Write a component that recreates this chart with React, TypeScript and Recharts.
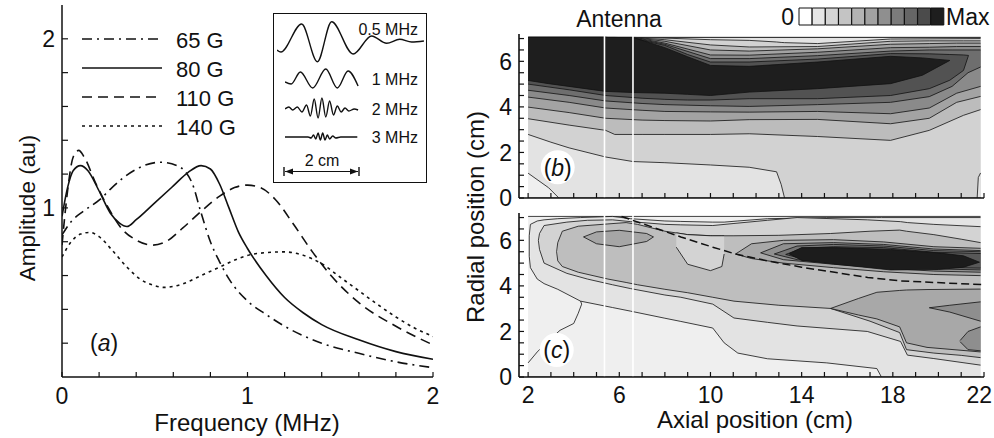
import React from 'react';
import {
  LineChart,
  Line,
  XAxis,
  YAxis,
  ComposedChart,
  Area,
  ReferenceLine,
  BarChart,
  Bar,
  Cell,
} from 'recharts';

const FONT = '"Liberation Sans", Arial, Helvetica, sans-serif';
const INK = '#111';

// ---------------- Panel (a): amplitude vs frequency ----------------
const freqTicks = [0, 0.2, 0.4, 0.6, 0.8, 1, 1.2, 1.4, 1.6, 1.8, 2];
const freqTickLabels = [0, 1, 2];
const ampTicks = [0.2, 0.4, 0.6, 0.8, 1, 1.2, 1.4, 1.6, 1.8, 2];
const ampTickLabels = [1, 2];

const amp65G = [
  [0, 0.84], [0.05, 0.92], [0.115, 0.98], [0.205, 1.05], [0.26, 1.11], [0.386, 1.22],
  [0.53, 1.27], [0.62, 1.25], [0.7, 1.15], [0.75, 0.97], [0.8, 0.8], [0.85, 0.68],
  [0.9, 0.58], [1.0, 0.45], [1.1, 0.37], [1.2, 0.3], [1.4, 0.2], [1.6, 0.14],
  [1.8, 0.09], [2.0, 0.055],
];
const amp80G = [
  [0, 0.95], [0.03, 1.12], [0.06, 1.22], [0.1, 1.25], [0.14, 1.22], [0.2, 1.1],
  [0.26, 0.97], [0.31, 0.91], [0.35, 0.89], [0.4, 0.93], [0.5, 1.03], [0.6, 1.13],
  [0.68, 1.21], [0.75, 1.25], [0.8, 1.23], [0.85, 1.14], [0.9, 1.0], [0.95, 0.86],
  [1.0, 0.76], [1.1, 0.6], [1.2, 0.47], [1.3, 0.38], [1.4, 0.31], [1.6, 0.22],
  [1.8, 0.15], [2.0, 0.105],
];
const amp110G = [
  [0, 0.78], [0.03, 1.1], [0.06, 1.3], [0.09, 1.34], [0.12, 1.3], [0.18, 1.15],
  [0.25, 1.0], [0.32, 0.88], [0.4, 0.81], [0.49, 0.78], [0.56, 0.8], [0.65, 0.88],
  [0.75, 0.98], [0.85, 1.07], [0.93, 1.12], [1.0, 1.135], [1.07, 1.12], [1.15, 1.05],
  [1.25, 0.9], [1.35, 0.74], [1.45, 0.6], [1.6, 0.44], [1.8, 0.3], [2.0, 0.19],
];
const amp140G = [
  [0, 0.71], [0.05, 0.8], [0.1, 0.845], [0.15, 0.855], [0.2, 0.83], [0.27, 0.75],
  [0.35, 0.65], [0.42, 0.58], [0.5, 0.54], [0.55, 0.53], [0.65, 0.55], [0.75, 0.6],
  [0.85, 0.65], [0.95, 0.7], [1.05, 0.73], [1.2, 0.74], [1.3, 0.72], [1.4, 0.67],
  [1.5, 0.59], [1.6, 0.51], [1.7, 0.43], [1.8, 0.355], [1.9, 0.29], [2.0, 0.24],
];
const fieldSeries = [amp65G, amp80G, amp110G, amp140G];
const fieldNames = ['65 G', '80 G', '110 G', '140 G'];
const fieldDashes = ['10 5 2 5', '', '10 6', '3 4'];

// inset waveforms (position along axis in cm, amplitude in arbitrary units)
const wave05MHz = [
  [0, -10], [0.1, -12], [0.64, 16], [1.05, -21.7], [1.42, 18.3], [1.98, -14],
  [2.46, 4], [2.85, -3.3], [3.19, 0.7], [3.5, -2], [3.82, -1],
];
const wave1MHz = [
  [0, -3], [0.16, -5], [0.4, 7], [0.72, -9], [1.06, 10], [1.36, -9], [1.64, 8], [1.9, -7],
];
const wave2MHz = [
  [0, 0], [0.1, 2], [0.2, -1], [0.32, 2], [0.44, -3], [0.56, 4], [0.66, -7], [0.76, 10],
  [0.86, -9], [0.96, 11], [1.06, -8], [1.16, 8], [1.26, -6], [1.36, 3], [1.46, -3],
  [1.56, 1], [1.66, -2], [1.8, 0], [1.9, -1],
];
const wave3MHz = [
  [0, 0], [0.6, 0], [0.68, -1], [0.74, 2], [0.8, -2], [0.86, 4], [0.92, -3], [0.98, 4],
  [1.04, -3], [1.1, 2], [1.16, -2], [1.24, 1], [1.32, -1], [1.45, 0], [1.88, 0],
];
const waveLabels = ['0.5 MHz', '1 MHz', '2 MHz', '3 MHz'];

// ---------------- Panels (b), (c): contour maps ----------------
const axialTicks = [2, 3, 4, 5, 6, 7, 8, 9, 10, 11, 12, 13, 14, 15, 16, 17, 18, 19, 20, 21, 22];
const axialTickLabels = [2, 6, 10, 14, 18, 22];
const radialTicks = [0, 0.5, 1, 1.5, 2, 2.5, 3, 3.5, 4, 4.5, 5, 5.5, 6, 6.5, 7];
const radialTickLabels = [0, 2, 4, 6];
const antennaEdges = [5.35, 6.6];
const colorbarLevels = [0, 1, 2, 3, 4, 5, 6, 7, 8, 9, 10];
const levelColors = ['#ffffff', '#e6e6e6', '#d5d5d5', '#c4c4c4', '#b3b3b3', '#a2a2a2', '#8f8f8f', '#7b7b7b', '#666666', '#4b4b4b', '#1e1e1e'];

// panel (b): [axial, lower radius, upper radius] of each filled level
const bLevel1 = [[2.0, 0, 7.05], [21.85, 0, 7.05]];
const bLevel2 = [[2.0, 1.09, 7.05], [2.9, 0.45, 7.05], [3.35, 0, 7.05], [21.85, 0, 7.05]];
const bLevel3 = [
  [2.0, 2.79, 7.05], [3.0, 2.45, 7.05], [3.8, 2.2, 7.05], [5.4, 1.8, 7.05], [6.6, 1.6, 7.05],
  [8.0, 1.55, 7.02], [10.0, 1.45, 6.95], [11.7, 1.35, 6.92], [12.9, 1.15, 6.85],
  [13.1, 0.6, 6.83], [13.25, 0, 6.82], [14.7, 0, 6.78], [17.9, 0, 6.98], [21.85, 0, 7.0],
];
const bCorner = [[21.7, 0, 0], [21.75, 0, 0.9], [21.85, 0, 1.1]];
const bLevel4 = [
  [2.0, 3.48, 7.05], [3.8, 3.2, 7.05], [5.4, 2.97, 7.05], [5.8, 2.79, 7.05], [7.0, 2.79, 7.02],
  [8.0, 2.79, 6.95], [10.0, 2.79, 6.72], [11.7, 2.82, 6.63], [14.7, 2.7, 6.65],
  [17.9, 2.53, 6.88], [19.6, 2.97, 6.9], [21.1, 3.63, 6.9], [21.85, 3.88, 6.9],
];
const bLevel5 = [
  [2.0, 3.99, 7.05], [3.8, 3.75, 7.05], [5.4, 3.5, 7.05], [7.0, 3.42, 7.0], [8.0, 3.4, 6.88],
  [10.0, 3.38, 6.5], [11.7, 3.44, 6.45], [14.7, 3.45, 6.55], [17.9, 3.26, 6.75],
  [19.6, 3.5, 6.78], [20.8, 4.2, 6.8], [21.85, 4.46, 6.8],
];
const bLevel6 = [
  [2.0, 4.43, 7.05], [3.8, 4.2, 7.05], [5.4, 3.95, 7.05], [7.0, 3.85, 6.98], [8.0, 3.8, 6.8],
  [10.0, 3.78, 6.28], [11.7, 3.77, 6.27], [14.7, 3.8, 6.4], [17.9, 3.7, 6.6],
  [19.6, 3.95, 6.62], [20.8, 4.6, 6.65], [21.85, 4.9, 6.65],
];
const bLevel7 = [
  [2.0, 4.73, 7.05], [3.8, 4.5, 7.05], [5.4, 4.26, 7.05], [7.0, 4.15, 6.95], [8.0, 4.1, 6.75],
  [10.0, 4.05, 6.12], [11.7, 4.02, 6.12], [14.7, 4.1, 6.25], [17.9, 4.2, 6.45],
  [19.6, 4.45, 6.5], [20.6, 4.9, 6.5], [21.3, 5.5, 6.5], [21.85, 5.75, 6.5],
];
const bLevel8 = [
  [2.0, 5.0, 7.05], [3.8, 4.75, 7.05], [5.4, 4.5, 7.05], [7.0, 4.38, 6.92], [8.0, 4.33, 6.7],
  [9.0, 4.3, 6.3], [10.0, 4.3, 5.97], [11.7, 4.36, 5.97], [14.7, 4.36, 6.1], [17.9, 4.5, 6.34],
  [19.6, 4.8, 6.33], [20.5, 5.17, 6.3], [21.1, 5.6, 6.28], [21.32, 6.26, 6.26],
];
const bLevel9 = [
  [2.0, 5.16, 7.05], [2.9, 5.02, 7.05], [5.4, 4.68, 7.05], [6.6, 4.63, 7.05], [8.0, 4.6, 6.6],
  [9.0, 4.55, 6.2], [10.0, 4.5, 5.82], [11.7, 4.65, 5.78], [14.7, 4.8, 5.97],
  [17.9, 5.02, 6.22], [19.3, 5.39, 6.15], [20.5, 6.04, 6.04],
];
const bFills = [
  [bLevel1, '#efefef'], [bLevel2, '#e3e3e3'], [bLevel3, '#d2d2d2'], [bCorner, '#e3e3e3'],
  [bLevel4, '#bcbcbc'], [bLevel5, '#a3a3a3'], [bLevel6, '#8a8a8a'], [bLevel7, '#6e6e6e'],
  [bLevel8, '#525252'], [bLevel9, '#1e1e1e'],
];

// panel (c)
const cLevel0 = [[2.0, 0, 7.05], [21.85, 0, 7.05]];
const cLevel1 = [
  [2.1, 4.8, 6.7], [2.4, 4.3, 6.85], [2.7, 4.1, 6.9], [3.3, 3.85, 6.95], [4.3, 3.33, 7.0],
  [5.7, 3.05, 7.05], [6.5, 2.89, 6.95], [8.0, 2.58, 6.85], [8.7, 2.44, 6.83], [10.1, 2.15, 6.8],
  [10.6, 1.5, 6.8], [11.2, 1.05, 6.85], [12.5, 0.8, 6.95], [15.1, 0.62, 7.0], [17.3, 0.37, 7.0],
  [17.5, 0, 7.0], [21.85, 0, 7.0],
];
const cLevel2 = [
  [2.5, 5.6, 6.3], [2.7, 5.0, 6.65], [3.7, 4.55, 6.8], [4.6, 4.3, 6.88], [5.7, 4.05, 6.9],
  [6.5, 3.88, 6.82], [8.0, 3.6, 6.7], [8.7, 3.5, 6.68], [10.1, 3.2, 6.65], [11.03, 2.59, 6.74],
  [12.5, 2.4, 6.88], [13.8, 2.24, 7.0], [16.88, 2.0, 6.9], [18.34, 1.56, 6.82],
  [18.64, 0.96, 6.78], [19.8, 0.81, 6.7], [21.85, 0.52, 6.6],
];
const cLevel3 = [
  [3.3, 5.1, 5.9], [3.5, 4.85, 6.4], [4.2, 4.6, 6.62], [5.5, 4.3, 6.72], [6.3, 4.15, 6.78],
  [6.8, 4.05, 6.7], [8.0, 3.85, 6.4], [9.0, 3.7, 6.25], [10.1, 3.5, 6.2], [11.03, 3.33, 6.2],
  [13.0, 3.15, 6.22], [15.27, 3.01, 6.3], [17.0, 2.45, 6.4], [18.3, 1.95, 6.45],
  [18.6, 1.2, 6.4], [19.8, 1.05, 6.25], [21.0, 0.95, 6.05], [21.85, 0.85, 5.9],
];
const cIsland = [[8.5, 5.7, 6.33], [9.0, 4.95, 6.25], [10.0, 4.67, 6.2], [10.5, 4.85, 6.2], [10.6, 5.4, 6.2]];
const cLowerRight = [
  [15.27, 3.01, 3.01], [16.5, 2.72, 3.45], [17.3, 2.55, 3.72], [18.3, 2.2, 3.8],
  [18.6, 1.5, 3.82], [19.5, 1.3, 3.84], [21.85, 1.1, 3.86],
];
const cLowerRightCore = [[19.6, 3.04, 3.04], [20.5, 2.85, 3.15], [21.85, 2.45, 3.3]];
const cLowerRightSpot = [[20.95, 1.55, 1.6], [21.3, 1.2, 2.0], [21.85, 1.15, 2.2]];
const cHexagon = [[4.43, 6.15, 6.15], [5.0, 5.85, 6.37], [6.0, 5.72, 6.44], [7.2, 5.95, 6.3], [7.5, 6.15, 6.15]];
const cRing1 = [
  [11.1, 5.4, 5.4], [11.8, 5.2, 5.85], [13.2, 5.0, 6.0], [15.4, 4.8, 6.03], [17.6, 4.62, 5.93],
  [19.8, 4.5, 5.72], [21.85, 4.45, 5.65],
];
const cRing2 = [
  [12.2, 5.45, 5.45], [13.2, 5.15, 5.85], [15.4, 4.95, 5.9], [17.6, 4.78, 5.82],
  [19.8, 4.65, 5.62], [21.85, 4.6, 5.55],
];
const cRing3 = [
  [12.8, 5.4, 5.4], [13.8, 5.15, 5.75], [15.4, 5.02, 5.82], [17.6, 4.86, 5.75],
  [19.8, 4.75, 5.55], [21.85, 4.7, 5.5],
];
const cRing4 = [
  [13.3, 5.38, 5.38], [14.0, 5.2, 5.65], [15.4, 5.08, 5.72], [17.6, 4.92, 5.68],
  [19.8, 4.82, 5.48], [21.85, 4.78, 5.42],
];
const cCore = [
  [13.45, 5.41, 5.41], [14.0, 5.12, 5.68], [15.5, 4.95, 5.68], [17.9, 4.7, 5.6],
  [20.0, 4.72, 5.45], [21.1, 4.82, 5.32], [21.8, 5.04, 5.04],
];
const cFills = [
  [cLevel0, '#efefef'], [cLevel1, '#e3e3e3'], [cLevel2, '#d3d3d3'], [cLevel3, '#bebebe'],
  [cIsland, '#d3d3d3'], [cLowerRight, '#a8a8a8'], [cLowerRightCore, '#8e8e8e'],
  [cLowerRightSpot, '#8e8e8e'], [cHexagon, '#a6a6a6'], [cRing1, '#a8a8a8'],
  [cRing2, '#909090'], [cRing3, '#747474'], [cRing4, '#585858'], [cCore, '#1c1c1c'],
];
const cContourLines = [
  [[2.0, 0.62], [2.4, 1.1], [2.9, 1.6], [3.4, 2.05], [4.0, 2.35], [4.2, 2.8], [4.35, 3.2], [4.3, 3.33]],
  [[2.1, 4.8], [2.05, 5.3], [2.05, 6.2], [2.1, 6.7]],
  [[2.5, 5.6], [2.45, 6.0], [2.5, 6.3]],
  [[3.3, 5.1], [3.25, 5.5], [3.3, 5.9]],
];
const cResonance = [
  [6.1, 7.05], [8.7, 6.15], [10.1, 5.7], [11.1, 5.4], [12.5, 5.1], [14.0, 4.82],
  [16.9, 4.37], [18.3, 4.22], [22.0, 4.05],
];

// ---------------- helpers ----------------
const toFV = (rows: number[][]) => rows.map(([f, v]) => ({ f, v }));
const toTA = (rows: number[][]) => rows.map(([t, a]) => ({ t, a }));
const toRange = (rows: number[][]) => rows.map(([x, lo, hi]) => ({ x, r: [lo, hi] }));
const toXY = (rows: number[][]) => rows.map(([x, y]) => ({ x, y }));

type Side = 'bottom' | 'top' | 'left' | 'right';
function makeTick(side: Side, len: number, labels: number[] = [], gap = 0, fontSize = 23, rightLimit = 99999) {
  return (props: any) => {
    const { x, y, payload } = props;
    const v = Number(payload?.value);
    const show = labels.some((l) => Math.abs(l - v) < 1e-6);
    const lp = { stroke: INK, strokeWidth: 1.2 };
    let tick;
    if (side === 'bottom') tick = <line x1={x} y1={y} x2={x} y2={y - len} {...lp} />;
    else if (side === 'top') tick = <line x1={x} y1={y} x2={x} y2={y + len} {...lp} />;
    else if (side === 'left') tick = <line x1={x} y1={y} x2={x + len} y2={y} {...lp} />;
    else tick = <line x1={x} y1={y} x2={x - len} y2={y} {...lp} />;
    let label = null;
    if (show && side === 'bottom') {
      const halfW = String(v).length * fontSize * 0.28;
      const nearEdge = x + halfW > rightLimit;
      label = (
        <text
          x={nearEdge ? rightLimit : x}
          y={y + gap}
          textAnchor={nearEdge ? 'end' : 'middle'}
          fontSize={fontSize}
          fontFamily={FONT}
          fill={INK}
        >
          {v}
        </text>
      );
    }
    if (show && side === 'left')
      label = (
        <text x={x - gap} y={y + fontSize * 0.36} textAnchor="end" fontSize={fontSize} fontFamily={FONT} fill={INK}>
          {v}
        </text>
      );
    return (
      <g>
        {tick}
        {label}
      </g>
    );
  };
}

const frameLine = { stroke: INK, strokeWidth: 1.6 };

function ContourPanel({ fills, top, height, marginTop, xAxisHeight, xLabels, extraLines, dashed }: any) {
  return (
    <div style={{ position: 'absolute', left: 430, top }}>
      <ComposedChart width={564} height={height} margin={{ top: marginTop, right: 10, bottom: 0, left: 0 }}>
        <XAxis
          type="number"
          dataKey="x"
          domain={[1.6, 22]}
          allowDataOverflow
          ticks={axialTicks}
          interval={0}
          height={xAxisHeight}
          tickSize={0}
          tickMargin={0}
          tickLine={false}
          axisLine={frameLine}
          tick={makeTick('bottom', 5, xLabels, 26, 23, 562)}
        />
        <XAxis
          xAxisId="top"
          orientation="top"
          type="number"
          domain={[1.6, 22]}
          allowDataOverflow
          ticks={axialTicks}
          interval={0}
          height={0}
          tickSize={0}
          tickMargin={0}
          tickLine={false}
          axisLine={frameLine}
          tick={makeTick('top', 5)}
        />
        <YAxis
          type="number"
          domain={[0, 7.2]}
          allowDataOverflow
          ticks={radialTicks}
          interval={0}
          width={89}
          tickSize={0}
          tickMargin={0}
          tickLine={false}
          axisLine={frameLine}
          tick={makeTick('left', 5, radialTickLabels, 7)}
        />
        <YAxis
          yAxisId="right"
          orientation="right"
          type="number"
          domain={[0, 7.2]}
          allowDataOverflow
          ticks={radialTicks}
          interval={0}
          width={0}
          tickSize={0}
          tickMargin={0}
          tickLine={false}
          axisLine={frameLine}
          tick={makeTick('right', 5)}
        />
        {fills.map(([rows, color]: any, i: number) => (
          <Area
            key={'f' + i}
            data={toRange(rows)}
            dataKey="r"
            type="linear"
            fill={color}
            fillOpacity={1}
            stroke={INK}
            strokeWidth={0.8}
            dot={false}
            activeDot={false}
            isAnimationActive={false}
          />
        ))}
        {(extraLines || []).map((rows: number[][], i: number) => (
          <Line
            key={'l' + i}
            data={toXY(rows)}
            dataKey="y"
            type="linear"
            stroke={INK}
            strokeWidth={0.8}
            dot={false}
            activeDot={false}
            isAnimationActive={false}
          />
        ))}
        {antennaEdges.map((a) => (
          <ReferenceLine key={'a' + a} x={a} stroke="#ffffff" strokeWidth={1.6} />
        ))}
        {dashed && (
          <Line
            data={toXY(dashed)}
            dataKey="y"
            type="linear"
            stroke={INK}
            strokeWidth={1.5}
            strokeDasharray="8 4"
            dot={false}
            activeDot={false}
            isAnimationActive={false}
          />
        )}
      </ComposedChart>
    </div>
  );
}

function Wave({ rows, left, top, width, height, span, amp }: any) {
  return (
    <div style={{ position: 'absolute', left, top }}>
      <LineChart width={width} height={height} margin={{ top: 0, right: 0, bottom: 0, left: 0 }}>
        <XAxis type="number" dataKey="t" domain={[0, span]} hide allowDataOverflow />
        <YAxis type="number" domain={[-amp, amp]} hide allowDataOverflow />
        <Line
          data={toTA(rows)}
          dataKey="a"
          type="monotone"
          stroke={INK}
          strokeWidth={1.4}
          dot={false}
          activeDot={false}
          isAnimationActive={false}
        />
      </LineChart>
    </div>
  );
}

export default function App() {
  const legendRows = [39, 68, 97, 126];
  const waveLabelY = [35, 85, 115, 143];
  return (
    <div
      style={{
        position: 'absolute',
        left: 0,
        top: 0,
        width: 994,
        height: 438,
        background: '#fff',
        fontFamily: FONT,
        overflow: 'hidden',
      }}
    >
      {/* Panel (a) */}
      <div style={{ position: 'absolute', left: 0, top: 0 }}>
        <LineChart width={445} height={438} margin={{ top: 5, right: 12, bottom: 0, left: 0 }}>
          <XAxis
            type="number"
            dataKey="f"
            domain={[0, 2]}
            allowDataOverflow
            ticks={freqTicks}
            interval={0}
            height={61}
            tickSize={0}
            tickMargin={0}
            tickLine={false}
            axisLine={{ stroke: INK, strokeWidth: 1.5 }}
            tick={makeTick('bottom', 5, freqTickLabels, 27)}
          />
          <XAxis
            xAxisId="top"
            orientation="top"
            type="number"
            domain={[0, 2]}
            height={0}
            tick={false}
            tickLine={false}
            axisLine={{ stroke: INK, strokeWidth: 1.5 }}
          />
          <YAxis
            type="number"
            domain={[0, 2.2]}
            allowDataOverflow
            ticks={ampTicks}
            interval={0}
            width={62}
            tickSize={0}
            tickMargin={0}
            tickLine={false}
            axisLine={{ stroke: INK, strokeWidth: 1.5 }}
            tick={makeTick('left', 6, ampTickLabels, 7)}
          />
          <YAxis
            yAxisId="right"
            orientation="right"
            type="number"
            domain={[0, 2.2]}
            width={0}
            tick={false}
            tickLine={false}
            axisLine={{ stroke: INK, strokeWidth: 1.5 }}
          />
          {fieldSeries.map((rows, i) => (
            <Line
              key={fieldNames[i]}
              name={fieldNames[i]}
              data={toFV(rows)}
              dataKey="v"
              type="monotone"
              stroke={INK}
              strokeWidth={1.6}
              strokeDasharray={fieldDashes[i] || undefined}
              dot={false}
              activeDot={false}
              isAnimationActive={false}
            />
          ))}
        </LineChart>
      </div>

      {/* Panel (b) */}
      <ContourPanel fills={bFills} top={0} height={212} marginTop={34} xAxisHeight={14} xLabels={[]} />
      {/* Panel (c) */}
      <ContourPanel
        fills={cFills}
        top={180}
        height={258}
        marginTop={33}
        xAxisHeight={61}
        xLabels={axialTickLabels}
        extraLines={cContourLines}
        dashed={cResonance}
      />

      {/* inset box */}
      <div
        style={{
          position: 'absolute',
          left: 273,
          top: 13,
          width: 154,
          height: 170,
          boxSizing: 'border-box',
          border: '1.5px solid #111',
          background: '#fff',
        }}
      />
      <Wave rows={wave05MHz} left={277} top={14} width={150} height={52} span={3.9} amp={26} />
      <Wave rows={wave1MHz} left={285} top={65} width={75} height={28} span={1.95} amp={14} />
      <Wave rows={wave2MHz} left={285} top={95} width={75} height={28} span={1.95} amp={14} />
      <Wave rows={wave3MHz} left={285} top={125} width={75} height={24} span={1.95} amp={12} />

      {/* colour bar */}
      <div style={{ position: 'absolute', left: 798, top: 7 }}>
        <BarChart
          width={147}
          height={19}
          data={colorbarLevels.map((l) => ({ level: l, h: 1 }))}
          margin={{ top: 1, right: 1, bottom: 1, left: 1 }}
          barCategoryGap={0}
          barGap={0}
        >
          <XAxis dataKey="level" hide />
          <YAxis type="number" domain={[0, 1]} hide />
          <Bar dataKey="h" stroke={INK} strokeWidth={1} isAnimationActive={false}>
            {colorbarLevels.map((l) => (
              <Cell key={l} fill={levelColors[l]} />
            ))}
          </Bar>
        </BarChart>
      </div>

      {/* text and annotations */}
      <svg
        width={994}
        height={438}
        style={{ position: 'absolute', left: 0, top: 0, pointerEvents: 'none' }}
        fontFamily={FONT}
      >
        {/* legend */}
        {legendRows.map((y, i) => (
          <g key={fieldNames[i]}>
            <line
              x1={82}
              y1={y}
              x2={162}
              y2={y}
              stroke={INK}
              strokeWidth={1.6}
              strokeDasharray={fieldDashes[i] || undefined}
            />
            <text x={176} y={y + 9} fontSize={22} fill={INK}>
              {fieldNames[i]}
            </text>
          </g>
        ))}
        {/* inset labels */}
        {waveLabels.map((t, i) => (
          <text key={t} x={418} y={waveLabelY[i]} fontSize={16} textAnchor="end" fill={INK}>
            {t}
          </text>
        ))}
        <text x={322} y={166} fontSize={16} textAnchor="middle" fill={INK}>
          2 cm
        </text>
        <line x1={285} y1={171.5} x2={358} y2={171.5} stroke={INK} strokeWidth={1.2} />
        <line x1={284} y1={167} x2={284} y2={176} stroke={INK} strokeWidth={1.4} />
        <line x1={359} y1={167} x2={359} y2={176} stroke={INK} strokeWidth={1.4} />
        <polygon points="285,171.5 293,168.5 293,174.5" fill={INK} />
        <polygon points="358,171.5 350,168.5 350,174.5" fill={INK} />

        {/* panel a labels */}
        <text x={90} y={351} fontSize={23} fill={INK}>
          (<tspan fontStyle="italic">a</tspan>)
        </text>
        <text x={247} y={431} fontSize={24} textAnchor="middle" fill={INK}>
          Frequency (MHz)
        </text>
        <text x={35} y={208} fontSize={22.5} textAnchor="middle" fill={INK} transform="rotate(-90 35 208)">
          Amplitude (au)
        </text>

        {/* right panels labels */}
        <text x={619} y={26.5} fontSize={23} textAnchor="middle" fill={INK}>
          Antenna
        </text>
        <text x={794} y={25} fontSize={23} textAnchor="end" fill={INK}>
          0
        </text>
        <text x={946} y={25} fontSize={23} fill={INK}>
          Max
        </text>
        <text x={755} y={428} fontSize={24} textAnchor="middle" fill={INK}>
          Axial position (cm)
        </text>
        <text x={484} y={217} fontSize={24} textAnchor="middle" fill={INK} transform="rotate(-90 484 217)">
          Radial position (cm)
        </text>
        <circle cx={557.7} cy={167.3} r={17} fill="#fff" />
        <text x={557.7} y={175.5} fontSize={23} textAnchor="middle" fill={INK}>
          (<tspan fontStyle="italic">b</tspan>)
        </text>
        <circle cx={556.7} cy={350} r={17} fill="#fff" />
        <text x={556.7} y={358.2} fontSize={23} textAnchor="middle" fill={INK}>
          (<tspan fontStyle="italic">c</tspan>)
        </text>
      </svg>
    </div>
  );
}
